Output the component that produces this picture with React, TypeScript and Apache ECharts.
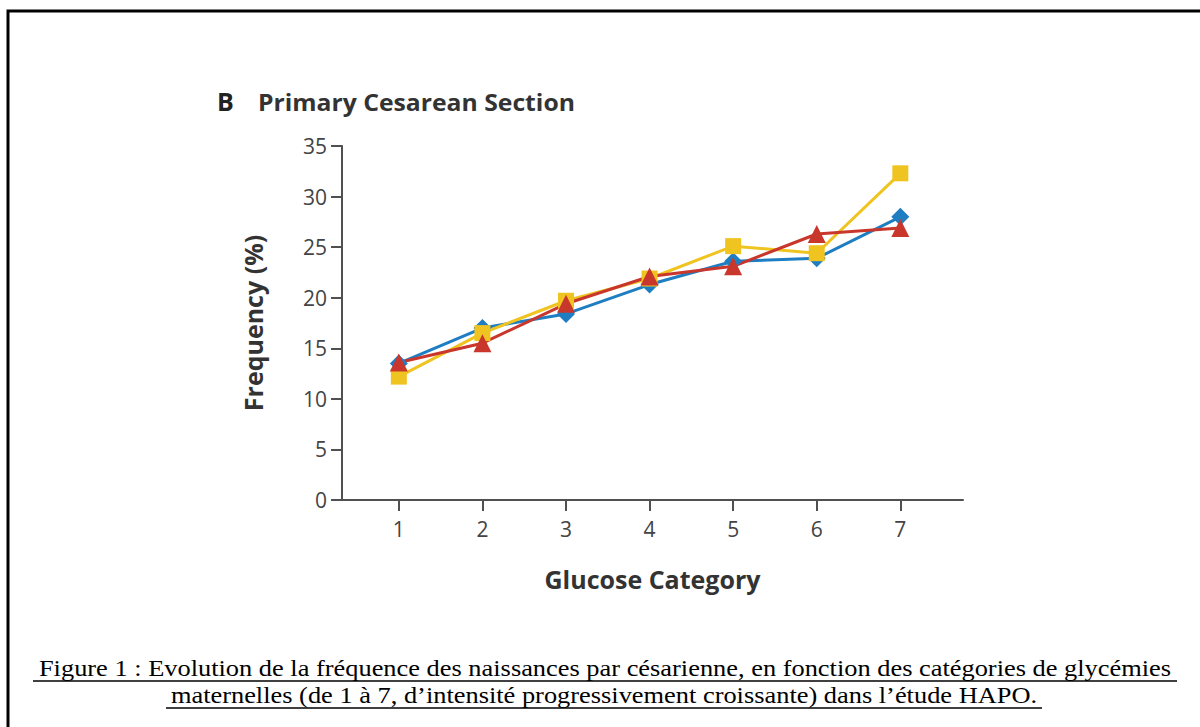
import React, { useEffect, useRef } from "react";
import * as echarts from "echarts";

const categories = [1, 2, 3, 4, 5, 6, 7];
const blueValues = [13.5, 17.0, 18.4, 21.3, 23.6, 23.9, 28.0];
const yellowValues = [12.2, 16.5, 19.7, 21.9, 25.1, 24.4, 32.3];
const redValues = [13.6, 15.5, 19.4, 22.1, 23.1, 26.3, 26.9];
const yTicks = [0, 5, 10, 15, 20, 25, 30, 35];

const captionLine1 =
  "Figure 1 : Evolution de la fréquence des naissances par césarienne, en fonction des catégories de glycémies";
const captionLine2 =
  "maternelles (de 1 à 7, d’intensité progressivement croissante) dans l’étude HAPO.";

const FONT = "Open Sans";
const SERIF = "Liberation Serif";

export default function App() {
  const ref = useRef<HTMLDivElement>(null);
  useEffect(() => {
    document.body.style.margin = "0";
    const chart = echarts.init(ref.current!, null, { renderer: "svg" });
    const pair = (vals: number[]) => categories.map((c, i) => [c, vals[i]]);
    const lineSeries = (name: string, vals: number[], color: string, symbol: string, size: number) => ({
      name,
      type: "line",
      data: pair(vals),
      symbol,
      symbolSize: size,
      lineStyle: { color, width: 3 },
      itemStyle: { color },
    });
    chart.setOption({
      animation: false,
      backgroundColor: "#ffffff",
      grid: { left: 342, right: 237, top: 146, bottom: 227 },
      xAxis: {
        type: "value",
        min: 0.32,
        max: 7.75,
        splitLine: { show: false },
        axisLine: { lineStyle: { color: "#505050", width: 2 } },
        axisTick: { show: true, customValues: categories, length: 11, lineStyle: { color: "#505050", width: 2 } },
        axisLabel: {
          customValues: categories,
          color: "#444",
          fontSize: 21,
          fontFamily: FONT,
          margin: 18,
        },
        name: "Glucose Category",
        nameLocation: "middle",
        nameGap: 66,
        nameTextStyle: { fontSize: 25, fontWeight: "bold", color: "#333", fontFamily: FONT },
      },
      yAxis: {
        type: "value",
        min: 0,
        max: 35,
        interval: 5,
        splitLine: { show: false },
        axisLine: { show: true, lineStyle: { color: "#505050", width: 2 } },
        axisTick: { show: true, length: 11, lineStyle: { color: "#505050", width: 2 } },
        axisLabel: {
          customValues: yTicks,
          color: "#444",
          fontSize: 21,
          fontFamily: FONT,
          margin: 15,
        },
        name: "Frequency (%)",
        nameLocation: "middle",
        nameGap: 77,
        nameTextStyle: { fontSize: 25, fontWeight: "bold", color: "#333", fontFamily: FONT },
      },
      series: [
        lineSeries("Blue", blueValues, "#1f7dc1", "diamond", 18),
        lineSeries("Yellow", yellowValues, "#f0c420", "rect", 16),
        lineSeries("Red", redValues, "#c9372c", "triangle", 18),
      ],
      graphic: [
        {
          type: "rect",
          shape: { x: 8, y: 11, width: 1200, height: 730 },
          style: { fill: "none", stroke: "#000", lineWidth: 3 },
          silent: true,
        },
        {
          type: "text",
          x: 217,
          y: 101,
          style: {
            text: "B",
            fontSize: 25,
            fontWeight: "bold",
            fontFamily: FONT,
            fill: "#222",
            verticalAlign: "middle",
          },
        },
        {
          type: "text",
          x: 258,
          y: 102,
          scaleX: 1.03,
          style: {
            text: "Primary Cesarean Section",
            fontSize: 24,
            fontWeight: "bold",
            fontFamily: FONT,
            fill: "#333",
            verticalAlign: "middle",
          },
        },
        {
          type: "text",
          x: 605,
          y: 668,
          scaleX: 1.1,
          style: {
            text: captionLine1,
            fontSize: 24,
            fontFamily: SERIF,
            fill: "#000",
            align: "center",
            verticalAlign: "middle",
          },
        },
        {
          type: "text",
          x: 604,
          y: 695,
          scaleX: 1.1,
          style: {
            text: captionLine2,
            fontSize: 24,
            fontFamily: SERIF,
            fill: "#000",
            align: "center",
            verticalAlign: "middle",
          },
        },
        {
          type: "line",
          shape: { x1: 33, y1: 681, x2: 1177, y2: 681 },
          style: { stroke: "#000", lineWidth: 1.5 },
        },
        {
          type: "line",
          shape: { x1: 166, y1: 708, x2: 1042, y2: 708 },
          style: { stroke: "#000", lineWidth: 1.5 },
        },
      ],
    });
    return () => chart.dispose();
  }, []);
  return <div ref={ref} style={{ width: 1200, height: 727 }} />;
}
